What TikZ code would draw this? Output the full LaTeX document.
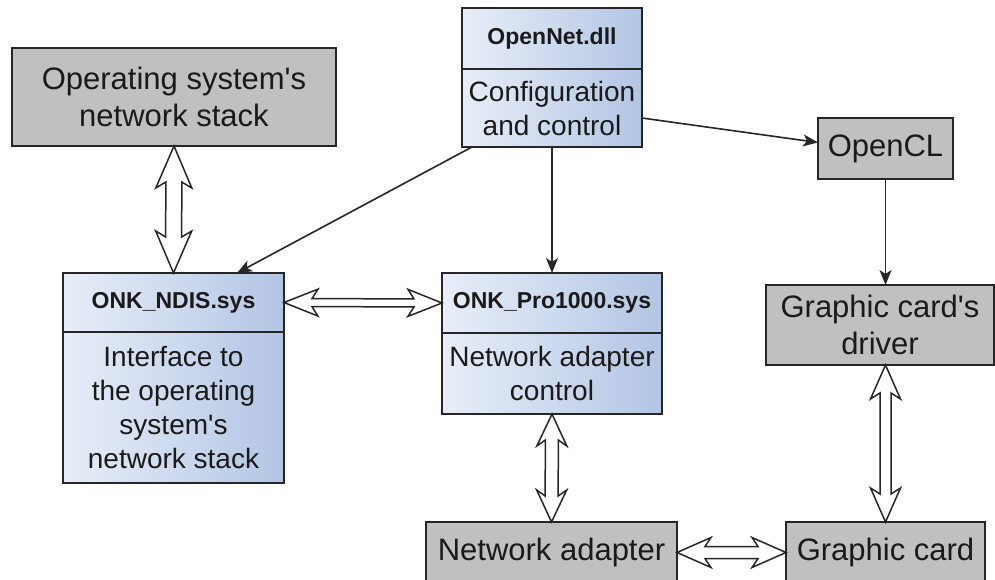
\documentclass[tikz,border=0pt]{standalone}
\usepackage{fontspec}
\setmainfont{Liberation Sans}
\usetikzlibrary{arrows.meta, positioning, calc}
\definecolor{boxlight}{HTML}{E8EEF8}
\definecolor{boxdark}{HTML}{B3C5E4}
\definecolor{boxgray}{HTML}{C0C0C0}
\definecolor{edgegray}{HTML}{262626}
\definecolor{textdark}{HTML}{1A1A1A}
\newcommand{\flexarrow}[5]{%
  \pgfmathsetlengthmacro{\fj}{#3-6pt}%
  \draw[flex] (#1)
    -- ($(#1)!#3!(#2)!#4!90:(#2)$) -- ($(#1)!\fj!(#2)!#5!90:(#2)$)
    -- ($(#2)!\fj!(#1)!#5!-90:(#1)$) -- ($(#2)!#3!(#1)!#4!-90:(#1)$)
    -- (#2)
    -- ($(#2)!#3!(#1)!#4!90:(#1)$) -- ($(#2)!\fj!(#1)!#5!90:(#1)$)
    -- ($(#1)!\fj!(#2)!#5!-90:(#2)$) -- ($(#1)!#3!(#2)!#4!-90:(#2)$)
    -- cycle;}

\begin{document}
\begin{tikzpicture}[x=1pt, y=-1pt,
    box/.style={draw=edgegray, line width=1.5pt, outer sep=0pt, inner sep=0pt,
      align=center, anchor=north west, text=textdark},
    graybox/.style={box, fill=boxgray, font=\fontsize{31}{37}\selectfont},
    bluehead/.style={box, left color=boxlight, right color=boxdark,
      font=\bfseries\fontsize{23}{28}\selectfont},
    bluebody/.style={box, left color=boxlight, right color=boxdark,
      font=\fontsize{28}{34}\selectfont},
    conn/.style={draw=black!85, line width=1.6pt, -{Stealth[length=15pt, width=12pt, inset=4pt]}},
    flex/.style={draw=black!85, fill=white, line width=1.5pt, line join=miter}]
  \useasboundingbox (0,0) rectangle (995,580);

  \node[graybox, minimum width=324pt, minimum height=98pt] (os) at (12,48)
    {Operating system\textquotesingle s\\network stack};
  \node[bluehead, minimum width=180pt, minimum height=61pt] (onhead) at (462,8) {OpenNet.dll};
  \node[bluebody, minimum width=180pt, minimum height=78pt, below=0pt of onhead] (onbody)
    {Configuration\\and control};
  \node[graybox, minimum width=135pt, minimum height=61pt] (opencl) at (818,118) {OpenCL};
  \node[bluehead, minimum width=221pt, minimum height=59pt] (ndishead) at (63,273) {ONK\_NDIS.sys};
  \node[bluebody, minimum width=221pt, minimum height=151pt, below=0pt of ndishead] (ndisbody)
    {Interface to\\the operating\\system\textquotesingle s\\network stack};
  \node[bluehead, minimum width=220pt, minimum height=60pt] (prohead) at (442,273) {ONK\_Pro1000.sys};
  \node[bluebody, minimum width=220pt, minimum height=81pt, below=0pt of prohead] (probody)
    {Network adapter\\control};
  \node[graybox, minimum width=228pt, minimum height=80pt] (driver) at (766,285)
    {Graphic card\textquotesingle s\\driver};
  \node[graybox, minimum width=251pt, minimum height=61pt] (netad) at (426,522) {Network adapter};
  \node[graybox, minimum width=199pt, minimum height=61pt] (gcard) at (786,522) {Graphic card};

  \draw[conn] ($(onbody.south west)+(10,0)$) -- ($(ndishead.north east)+(-47,0)$);
  \draw[conn] (onbody.south) -- (prohead.north);
  \draw[conn] ($(onbody.east)+(0,10)$) -- ($(opencl.west)+(0,-6)$);
  \draw[conn] (opencl.south) -- (opencl.south |- driver.north);

  \coordinate (drvfoot) at (gcard.north |- driver.south);
  \flexarrow{os.south}{ndishead.north}{42pt}{18pt}{8pt}
  \flexarrow{ndishead.east}{prohead.west}{34pt}{13.5pt}{4pt}
  \flexarrow{probody.south}{netad.north}{32pt}{15pt}{6.5pt}
  \flexarrow{drvfoot}{gcard.north}{34pt}{15pt}{5.5pt}
  \flexarrow{netad.east}{gcard.west}{34pt}{15pt}{6pt}
\end{tikzpicture}
\end{document}
